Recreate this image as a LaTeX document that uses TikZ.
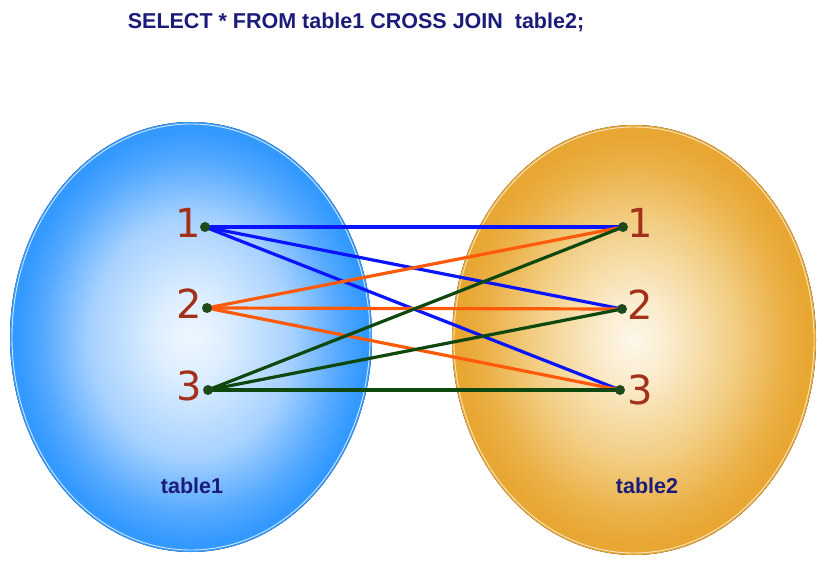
\documentclass[tikz,border=0pt]{standalone}
\usepackage{fontspec}
\setmainfont{Liberation Sans}
\newfontfamily\numfont{DejaVu Sans}
\usetikzlibrary{backgrounds}
\definecolor{bl0}{HTML}{EEF6FF}
\definecolor{bl1}{HTML}{DDEEFF}
\definecolor{bl2}{HTML}{A6D1FF}
\definecolor{bl3}{HTML}{55A9FF}
\definecolor{bl4}{HTML}{3399FF}
\definecolor{or0}{HTML}{FDF7EA}
\definecolor{or1}{HTML}{FAEBCB}
\definecolor{or2}{HTML}{F2CD82}
\definecolor{or3}{HTML}{EBB046}
\definecolor{or4}{HTML}{E8A632}
\definecolor{navy}{HTML}{1B1B7A}
\definecolor{numred}{HTML}{A3301A}
\definecolor{dotgreen}{HTML}{1E4A1E}
\definecolor{lblue}{HTML}{0A14FF}
\definecolor{lorange}{HTML}{FF5A0A}
\definecolor{lgreen}{HTML}{0E480E}
\pgfdeclareradialshading{blueball}{\pgfpoint{0bp}{0bp}}{color(0bp)=(bl0); color(5bp)=(bl1); color(14bp)=(bl2); color(20.5bp)=(bl3); color(24bp)=(bl4); color(50bp)=(bl4)}
\pgfdeclareradialshading{orangeball}{\pgfpoint{0bp}{0bp}}{color(0bp)=(or0); color(5bp)=(or1); color(14bp)=(or2); color(20.5bp)=(or3); color(24bp)=(or4); color(50bp)=(or4)}
\tikzset{
  dotnode/.style={circle, fill=dotgreen, inner sep=0pt, minimum size=10pt},
  numlabel/.style={anchor=base, text=numred, font=\numfont\fontsize{40}{40}\selectfont, inner sep=0pt},
  tablelabel/.style={anchor=base, text=navy, font=\bfseries\fontsize{21.5}{22}\selectfont, inner sep=0pt},
  titlelabel/.style={anchor=base, text=navy, font=\bfseries\fontsize{21.5}{22}\selectfont, inner sep=0pt},
  link/.style={line width=3.2pt},
  rim/.style={line width=0.9pt}
}
\begin{document}
\begin{tikzpicture}[x=1pt,y=-1pt]
\useasboundingbox (0,0) rectangle (824,572);
% dots
\node[dotnode] (l1) at (205,227) {};
\node[dotnode] (l2) at (207,308) {};
\node[dotnode] (l3) at (208,390) {};
\node[dotnode] (r1) at (623,227) {};
\node[dotnode] (r2) at (622,309) {};
\node[dotnode] (r3) at (620,390) {};
% numbers
\node[numlabel] (n1) at (188,237) {1};
\node[numlabel] (n2) at (189,318) {2};
\node[numlabel] (n3) at (189,400) {3};
\node[numlabel] (m1) at (640,237) {1};
\node[numlabel] (m2) at (640,319) {2};
\node[numlabel] (m3) at (640,404) {3};
% labels
\node[titlelabel] (title) at (356,29) {SELECT * FROM table1 CROSS JOIN \ table2;};
\node[tablelabel] (t1) at (192,493) {table1};
\node[tablelabel] (t2) at (647,493) {table2};
\begin{pgfonlayer}{background}
  \fill[white] (0,0) rectangle (824,572);
  \fill[shading=blueball] (191,337) ellipse [x radius=181, y radius=215];
  \draw[rim, white!75!bl4] (191,337) ellipse [x radius=179, y radius=213];
  \fill[shading=orangeball] (634,340) ellipse [x radius=182, y radius=215];
  \draw[rim, white!70!or4] (634,340) ellipse [x radius=180, y radius=213];
  \draw[link, lblue] (l1.center) -- (r1.center);
  \draw[link, lblue] (l1.center) -- (r2.center);
  \draw[link, lblue] (l1.center) -- (r3.center);
  \draw[link, lorange] (l2.center) -- (r1.center);
  \draw[link, lorange] (l2.center) -- (r2.center);
  \draw[link, lorange] (l2.center) -- (r3.center);
  \draw[link, lgreen] (l3.center) -- (r1.center);
  \draw[link, lgreen] (l3.center) -- (r2.center);
  \draw[link, lgreen] (l3.center) -- (r3.center);
\end{pgfonlayer}
\end{tikzpicture}
\end{document}
